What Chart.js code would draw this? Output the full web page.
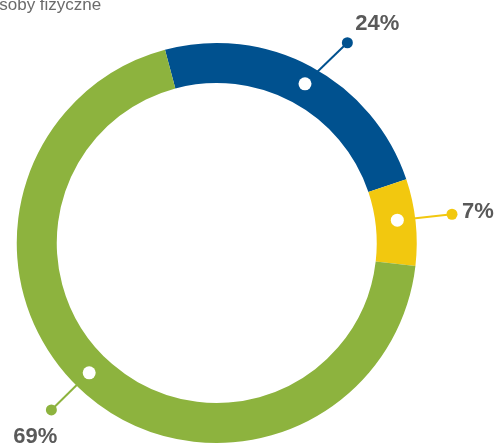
<!DOCTYPE html>
<html>
<head>
<meta charset="utf-8">
<script src="https://cdn.jsdelivr.net/npm/chart.js@4/dist/chart.umd.min.js"></script>
<style>
  html, body { margin: 0; padding: 0; background: #fff; overflow: hidden; }
  #wrap { position: relative; width: 498px; height: 444px; }
</style>
</head>
<body>
<div id="wrap"><canvas id="myChart" width="498" height="444"></canvas></div>
<script>
const title = 'Osoby fizyczne'
const categories = ['Kategoria A', 'Kategoria B', 'Kategoria C']
const shares = [24, 7, 69]
const labels = ['24%', '7%', '69%']
const colors = ['#00518f', '#f2c80f', '#8db33e']

// callout geometry (degrees clockwise from 12 o'clock, px)
const dotShift = [0.8, -1.2, 3.7]
const leaderAngle = [45.9, 83.8, 225.5]
const leaderLen = [59, 55, 53]
const textOffset = [[8, -13, 'left'], [10, 4, 'left'], [-16, 33, 'center']]

const callouts = {
    id: 'callouts',
    afterDatasetsDraw(chart) {
        const ctx = chart.ctx
        const meta = chart.getDatasetMeta(0)
        meta.data.forEach((arc, i) => {
            const p = arc.getProps(['x', 'y', 'startAngle', 'endAngle', 'innerRadius', 'outerRadius'], true)
            const a = (p.startAngle + p.endAngle) / 2 + dotShift[i] * Math.PI / 180
            const r = (p.innerRadius + p.outerRadius) / 2 + 2
            const dx = p.x + r * Math.cos(a)
            const dy = p.y + r * Math.sin(a)
            const la = (leaderAngle[i] - 90) * Math.PI / 180
            const mx = dx + leaderLen[i] * Math.cos(la)
            const my = dy + leaderLen[i] * Math.sin(la)
            ctx.save()
            ctx.strokeStyle = colors[i]
            ctx.lineWidth = 2
            ctx.beginPath()
            ctx.moveTo(dx, dy)
            ctx.lineTo(mx, my)
            ctx.stroke()
            ctx.fillStyle = colors[i]
            ctx.beginPath()
            ctx.arc(mx, my, 5.5, 0, Math.PI * 2)
            ctx.fill()
            ctx.fillStyle = '#ffffff'
            ctx.beginPath()
            ctx.arc(dx, dy, 6.5, 0, Math.PI * 2)
            ctx.fill()
            ctx.fillStyle = '#595959'
            ctx.font = 'bold 22px "Liberation Sans", Arial, sans-serif'
            ctx.textAlign = textOffset[i][2]
            ctx.textBaseline = 'alphabetic'
            ctx.fillText(labels[i], mx + textOffset[i][0], my + textOffset[i][1])
            ctx.restore()
        })
        ctx.save()
        ctx.fillStyle = '#6b6b6b'
        ctx.font = '17px "Liberation Sans", Arial, sans-serif'
        ctx.textAlign = 'left'
        ctx.textBaseline = 'alphabetic'
        ctx.fillText(title, -14, 10)
        ctx.restore()
    }
}

new Chart(document.getElementById('myChart'), {
    type: 'doughnut',
    data: {
        labels: categories,
        datasets: [{
            data: shares,
            backgroundColor: colors,
            borderWidth: 0,
        }],
    },
    options: {
        responsive: false,
        animation: false,
        rotation: -15,
        cutout: '80%',
        layout: { padding: { left: 16.5, right: 81, top: 43, bottom: 1 } },
        plugins: {
            legend: { display: false },
            tooltip: { enabled: false },
        },
    },
    plugins: [callouts],
});
</script>
</body>
</html>
